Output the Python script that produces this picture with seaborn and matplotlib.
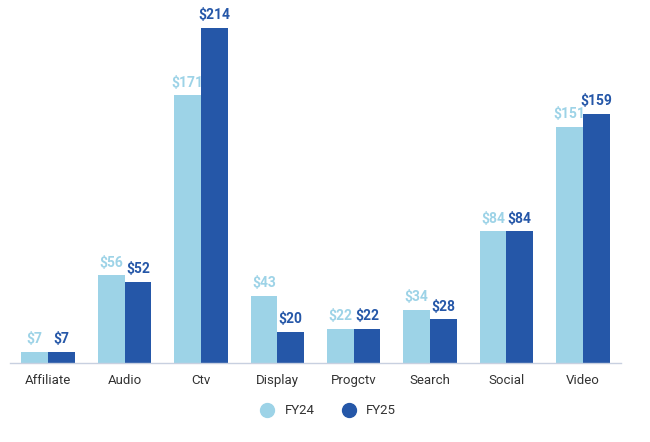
import matplotlib
matplotlib.use("Agg")
import matplotlib.pyplot as plt
from matplotlib.lines import Line2D
import pandas as pd
import seaborn as sns

# Values
categories = ["Affiliate", "Audio", "Ctv", "Display", "Progctv", "Search", "Social", "Video"]
fy24 = [7, 56, 171, 43, 22, 34, 84, 151]
fy25 = [7, 52, 214, 20, 22, 28, 84, 159]
series = ["FY24", "FY25"]
colors = {"FY24": "#9dd3e7", "FY25": "#2557a8"}

df = pd.DataFrame({
    "category": categories * 2,
    "year": ["FY24"] * len(categories) + ["FY25"] * len(categories),
    "value": fy24 + fy25,
})

sns.set_theme(style="white")
plt.rcParams["font.family"] = ["Roboto", "DejaVu Sans"]

fig = plt.figure(figsize=(6.5, 4.42), dpi=100)
ax = fig.add_axes([10 / 650, 1 - 363 / 442, 611 / 650, 353 / 442])

sns.barplot(data=df, x="category", y="value", hue="year", order=categories,
            hue_order=series, palette=colors, width=0.7, saturation=1,
            linewidth=0, legend=False, ax=ax)

for container, name in zip(ax.containers, series):
    ax.bar_label(container, labels=[f"${v:.0f}" for v in container.datavalues],
                 padding=4, color=colors[name], fontsize=10, fontweight="bold")

ax.set_ylim(0, 225.4)
ax.set_xlim(-0.5, len(categories) - 0.5)
ax.set_xlabel("")
ax.set_ylabel("")
ax.set_yticks([])
ax.tick_params(axis="x", length=0, pad=8, labelsize=9.5, labelcolor="#333333")
for side in ["top", "right", "left"]:
    ax.spines[side].set_visible(False)
ax.spines["bottom"].set_color("#c8d0e0")
ax.spines["bottom"].set_linewidth(1)

handles = [Line2D([], [], marker="o", linestyle="", markersize=10,
                  markerfacecolor=colors[s], markeredgecolor=colors[s]) for s in series]
fig.legend(handles, series, loc="center", bbox_to_anchor=(0.5, 1 - 411 / 442),
           ncol=2, frameon=False, fontsize=9.5, handletextpad=0.3, columnspacing=1.6,
           labelcolor="#333333")

fig.savefig("out.png", dpi=100)
